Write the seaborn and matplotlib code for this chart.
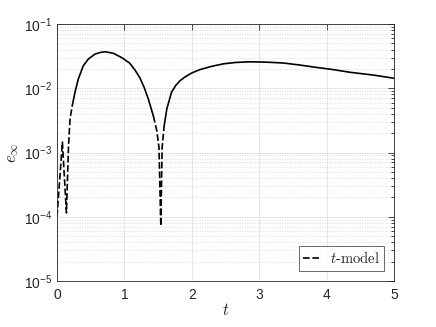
import matplotlib
matplotlib.use('Agg')
import matplotlib.pyplot as plt
from matplotlib.lines import Line2D
from matplotlib.font_manager import FontProperties
from matplotlib.ticker import LogLocator, NullFormatter, FixedLocator
import pandas as pd
import seaborn as sns

# values
t_vals = [0.0, 0.08, 0.14, 0.17, 0.193, 0.227, 0.267, 0.316, 0.39, 0.465,
          0.564, 0.64, 0.712, 0.836, 0.96, 1.08, 1.16, 1.23, 1.29, 1.355,
          1.43, 1.48, 1.513, 1.54, 1.56, 1.59, 1.63, 1.70, 1.76, 1.825,
          1.9, 2.0, 2.12, 2.3, 2.47, 2.65, 2.86, 3.1, 3.36, 3.6,
          3.85, 4.1, 4.35, 4.7, 5.0]
e_vals = [1.0e-4, 1.45e-3, 1.15e-4, 1.2e-3, 3.3e-3, 5.4e-3, 8.7e-3, 1.39e-2, 2.24e-2, 2.85e-2,
          3.4e-2, 3.6e-2, 3.7e-2, 3.5e-2, 3.0e-2, 2.45e-2, 1.9e-2, 1.45e-2, 1.05e-2, 6.8e-3,
          3.7e-3, 2.2e-3, 1.2e-3, 7.2e-5, 1.2e-3, 2.6e-3, 4.8e-3, 8.7e-3, 1.1e-2, 1.31e-2,
          1.5e-2, 1.73e-2, 1.95e-2, 2.2e-2, 2.4e-2, 2.52e-2, 2.58e-2, 2.55e-2, 2.47e-2, 2.3e-2,
          2.11e-2, 1.95e-2, 1.77e-2, 1.6e-2, 1.43e-2]
# index spans where the dash pattern shows (steep parts); elsewhere it looks solid
dash_spans = [(0, 5), (20, 25)]
legend_label = '$t$-model'

# split the curve into pieces that share their end points
breaks = sorted({0, len(t_vals) - 1} | {i for span in dash_spans for i in span})
rows = []
for p, (a, b) in enumerate(zip(breaks[:-1], breaks[1:])):
    kind = 'dashed' if (a, b) in dash_spans else 'solid'
    for i in range(a, b + 1):
        rows.append({'t': t_vals[i], 'e': e_vals[i], 'piece': p, 'kind': kind})
df = pd.DataFrame(rows)

sns.set_style('white')
plt.rcParams['font.family'] = ['Liberation Sans', 'DejaVu Sans']
plt.rcParams['mathtext.fontset'] = 'cm'
dark = '#262626'

fig = plt.figure(figsize=(4.36, 3.27), dpi=100)
ax = fig.add_axes([57 / 436, 1 - 281 / 327, 337 / 436, 257 / 327])
ax.set_yscale('log')

dash_pat = (4, 1.6)
sns.lineplot(data=df, x='t', y='e', units='piece', style='kind',
             dashes={'solid': '', 'dashed': dash_pat}, estimator=None,
             sort=False, color='black', lw=1.2, legend=False, ax=ax)

ax.set_xlim(0, 5)
ax.set_ylim(1e-5, 1e-1)
ax.xaxis.set_major_locator(FixedLocator([0, 1, 2, 3, 4, 5]))
ax.yaxis.set_major_locator(LogLocator(base=10, numticks=10))
ax.yaxis.set_minor_locator(LogLocator(base=10, subs=range(2, 10), numticks=20))
ax.yaxis.set_minor_formatter(NullFormatter())

ax.grid(True, which='major', color='#e3e3e3', lw=0.6, ls='-')
ax.grid(True, which='minor', axis='y', color='#d0d0d0', lw=0.6, ls=(0, (1, 2)))
ax.set_axisbelow(True)

for s in ax.spines.values():
    s.set_color(dark)
    s.set_linewidth(0.6)
ax.tick_params(which='both', direction='in', top=True, right=True,
               colors=dark, labelsize=10, width=0.6)
ax.tick_params(which='major', length=4)
ax.tick_params(which='minor', length=2)
ax.tick_params(axis='x', pad=5)

ax.set_xlabel('$t$', fontsize=12, color=dark, labelpad=0)
ax.set_ylabel(r'$e_\infty$', fontsize=12, color=dark, labelpad=2)

handle = Line2D([], [], color='black', lw=1.2, ls='--', dashes=dash_pat)
leg = ax.legend([handle], [legend_label], loc='lower right',
                prop=FontProperties(family='cmr10', size=10.5, math_fontfamily='cm'),
                frameon=True, fancybox=False, handlelength=1.1, handletextpad=0.7,
                borderpad=0.3, borderaxespad=0.7)
leg.get_frame().set_edgecolor(dark)
leg.get_frame().set_linewidth(0.6)

plt.savefig('out.png', dpi=100)
plt.close()
